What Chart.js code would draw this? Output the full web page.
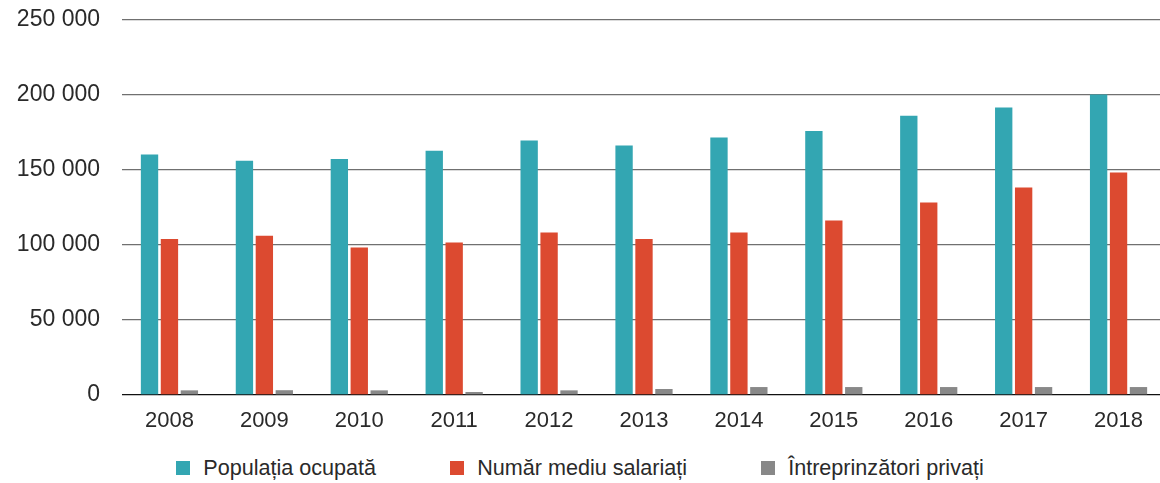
<!DOCTYPE html>
<html>
<head>
<meta charset="utf-8">
<script src="https://cdn.jsdelivr.net/npm/chart.js@4.4.1/dist/chart.umd.min.js"></script>
<style>
  html, body { margin: 0; padding: 0; background: #fff; overflow: hidden; width: 1160px; height: 483px; }
  #wrap { position: relative; width: 1166px; height: 435px; }
  #legend { position: absolute; left: 0; top: 455px; width: 1160px; display: flex; justify-content: center; gap: 74px;
            font-family: "Liberation Sans", Arial, sans-serif; font-size: 21.6px; color: #2a2a2a; }
  .item { display: flex; align-items: center; }
  .box { width: 14px; height: 14px; margin-right: 13px; }
</style>
</head>
<body>
<div id="wrap"><canvas id="grafic" width="1166" height="435"></canvas></div>
<div id="legend"></div>
<script>
  const ani = ['2008', '2009', '2010', '2011', '2012', '2013', '2014', '2015', '2016', '2017', '2018'];
  const populatiaOcupata = [160400, 156200, 157300, 162900, 169600, 166300, 171600, 176000, 186100, 191700, 200300];
  const salariati = [104000, 106200, 98400, 101700, 108400, 104000, 108400, 116300, 128300, 138400, 148400];
  const intreprinzatori = [3100, 3200, 3100, 2000, 3100, 4000, 5300, 5300, 5300, 5300, 5300];
  const etichete = ['Populația ocupată', 'Număr mediu salariați', 'Întreprinzători privați'];
  const culori = ['#33a6b2', '#dc4a30', '#888888'];
  const yTicks = [0, 50000, 100000, 150000, 200000, 250000];

  const seturi = [populatiaOcupata, salariati, intreprinzatori].map((valori, i) => ({
    label: etichete[i],
    data: valori,
    backgroundColor: culori[i],
    borderWidth: 0,
    categoryPercentage: 0.63,
    barPercentage: 0.87
  }));

  const ctx = document.getElementById('grafic').getContext('2d');
  new Chart(ctx, {
    type: 'bar',
    data: { labels: ani, datasets: seturi },
    options: {
      responsive: false,
      animation: false,
      layout: { padding: { top: 20, left: 0, right: 0, bottom: 0 } },
      plugins: { legend: { display: false }, tooltip: { enabled: false } },
      scales: {
        x: {
          grid: { display: false, drawTicks: false },
          border: { display: false },
          ticks: { color: '#2a2a2a', padding: 13, font: { family: 'Liberation Sans', size: 22 } },
          afterFit: function (scale) { scale.height = 40; scale.paddingLeft = 0; scale.paddingRight = 0; }
        },
        y: {
          min: 0,
          max: 250000,
          afterBuildTicks: function (scale) { scale.ticks = yTicks.map(v => ({ value: v })); },
          border: { display: false },
          grid: {
            drawTicks: false,
            color: c => (c.tick && c.tick.value === 0 ? '#111' : '#707070'),
            lineWidth: 1.3
          },
          ticks: {
            color: '#2a2a2a',
            padding: 22,
            font: { family: 'Liberation Sans', size: 23 },
            callback: v => v.toString().replace(/\B(?=(\d{3})+(?!\d))/g, ' ')
          },
          afterFit: function (scale) { scale.width = 122; scale.paddingTop = 0; scale.paddingBottom = 0; }
        }
      }
    }
  });

  // legenda
  const legend = document.getElementById('legend');
  etichete.forEach((text, i) => {
    const item = document.createElement('div');
    item.className = 'item';
    const box = document.createElement('span');
    box.className = 'box';
    box.style.background = culori[i];
    const span = document.createElement('span');
    span.textContent = text;
    item.appendChild(box);
    item.appendChild(span);
    legend.appendChild(item);
  });
</script>
</body>
</html>
